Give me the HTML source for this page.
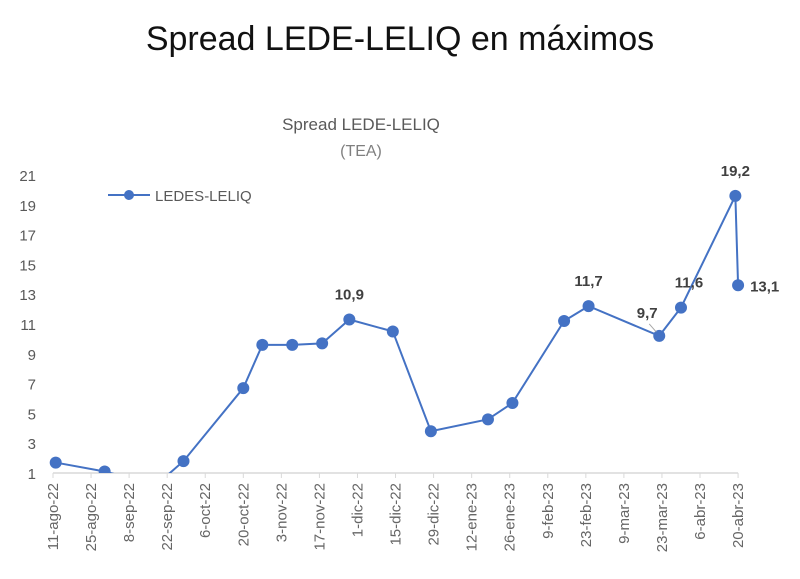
<!DOCTYPE html>
<html><head><meta charset="utf-8"><style>
body{margin:0;background:#fff;width:800px;height:574px;overflow:hidden;font-family:"Liberation Sans",sans-serif}
</style></head><body>
<svg width="800" height="574" xmlns="http://www.w3.org/2000/svg">
<text x="400" y="50" text-anchor="middle" font-size="34" fill="#111">Spread LEDE-LELIQ en máximos</text>
<text x="361" y="130" text-anchor="middle" font-size="17" fill="#595959">Spread LEDE-LELIQ</text>
<text x="361" y="156" text-anchor="middle" font-size="16" fill="#7f7f7f">(TEA)</text>
<g>
<line x1="108" y1="195" x2="150" y2="195" stroke="#4472C4" stroke-width="2"/>
<circle cx="129" cy="195" r="5" fill="#4472C4"/>
<text x="155" y="201" font-size="15" fill="#595959">LEDES-LELIQ</text>
</g>
<defs><clipPath id="plot"><rect x="40" y="150" width="760" height="323"/></clipPath></defs>
<g id="yaxis"></g><g id="xaxis"></g>
<g id="series" clip-path="url(#plot)"></g>
<g id="labels"></g>
</svg>
<script>
const days=[1,19,38,48,70,77,88,99,109,125,139,160,169,188,197,223,231,251,252];
const values=[1.7,1.1,0.2,1.8,6.7,9.6,9.6,9.7,11.3,10.5,3.8,4.6,5.7,11.2,12.2,10.2,12.1,19.6,13.6];
const pointLabels=["","","","","","","","","10,9","","","","","","11,7","9,7","11,6","19,2","13,1"];
const yTicks=[1,3,5,7,9,11,13,15,17,19,21];
const xTickLabels=["11-ago-22","25-ago-22","8-sep-22","22-sep-22","6-oct-22","20-oct-22","3-nov-22","17-nov-22","1-dic-22","15-dic-22","29-dic-22","12-ene-23","26-ene-23","9-feb-23","23-feb-23","9-mar-23","23-mar-23","6-abr-23","20-abr-23"];
const NS="http://www.w3.org/2000/svg";
const X0=53,DX=38.06/14,Y0=473,DY=14.9;
const xs=d=>X0+d*DX, ys=v=>Y0-(v-1)*DY;
function mk(t,a,p){const e=document.createElementNS(NS,t);for(const k in a)e.setAttribute(k,a[k]);p.appendChild(e);return e;}
const ya=document.getElementById('yaxis'),xa=document.getElementById('xaxis'),se=document.getElementById('series'),lb=document.getElementById('labels');
yTicks.forEach(v=>{const t=mk('text',{x:36,y:ys(v)+6,'text-anchor':'end','font-size':15,fill:'#595959'},ya);t.textContent=v;

});
const ax=mk('line',{x1:X0,y1:Y0,x2:xs(18*14),y2:Y0,stroke:'#d9d9d9','stroke-width':1.5},xa);


xTickLabels.forEach((s,i)=>{const x=xs(i*14);mk('line',{x1:x,y1:Y0,x2:x,y2:Y0+5,stroke:'#d9d9d9'},xa);
const t=mk('text',{x:0,y:0,'text-anchor':'end','font-size':15,fill:'#666',transform:`translate(${x+5},${Y0+10}) rotate(-90)`},xa);t.textContent=s;

});
const pts=days.map((d,i)=>xs(d)+','+ys(values[i])).join(' ');
const pl=mk('polyline',{points:pts,fill:'none',stroke:'#4472C4','stroke-width':2},se);


days.forEach((d,i)=>{const c=mk('circle',{cx:xs(d),cy:ys(values[i]),r:6,fill:'#4472C4'},se);

});
const off={8:[0,-20,'middle'],14:[0,-20,'middle'],15:[-12,-18,'middle'],16:[8,-20,'middle'],17:[0,-20,'middle'],18:[12,6,'start']};
pointLabels.forEach((s,i)=>{if(!s)return;const o=off[i];const x=xs(days[i]),y=ys(values[i]);
if(i==15)mk('line',{x1:x-3,y1:y-4,x2:x-10,y2:y-12,stroke:'#a6a6a6'},lb);
const t=mk('text',{x:x+o[0],y:y+o[1],'text-anchor':o[2],'font-size':15,'font-weight':'bold',fill:'#404040'},lb);t.textContent=s;

});
</script>
</body></html>
